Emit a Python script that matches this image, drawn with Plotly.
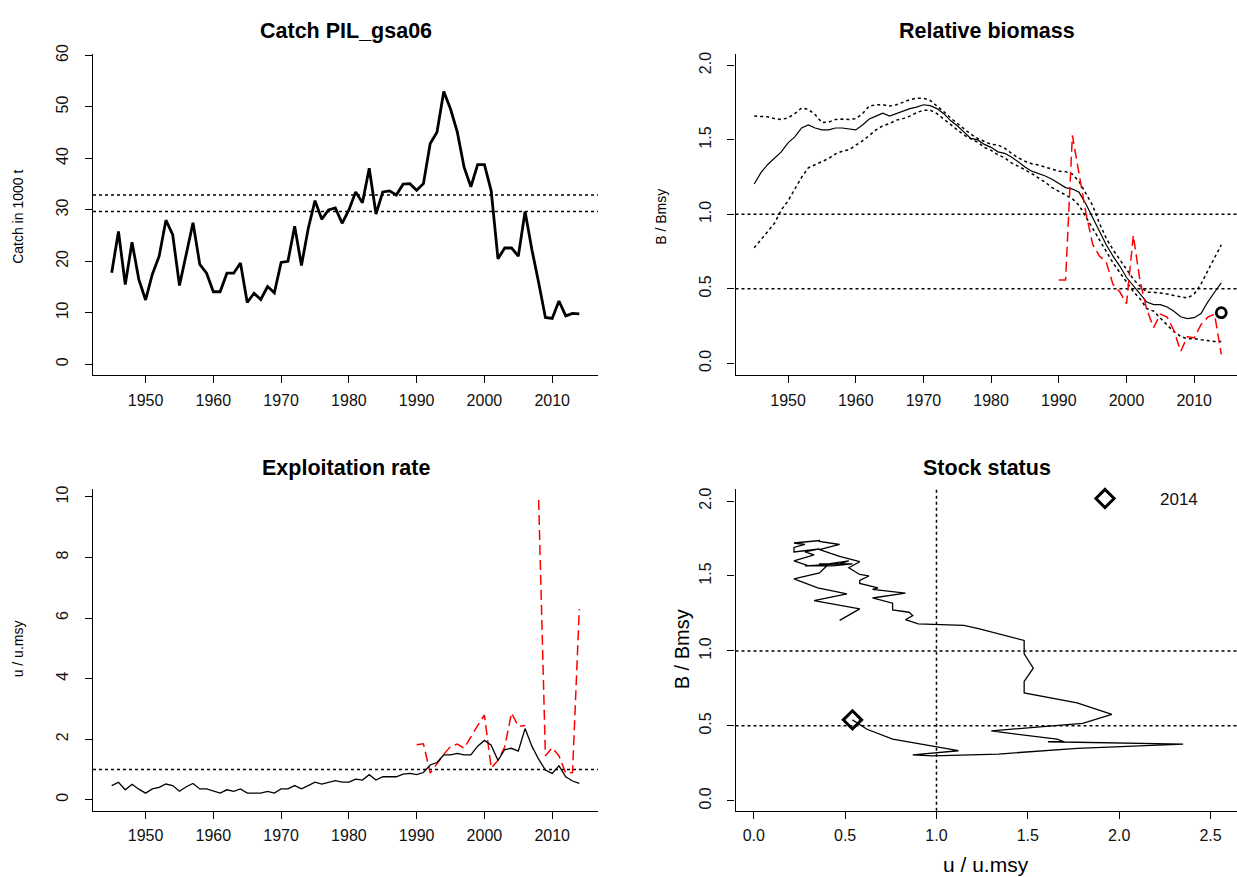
import plotly.graph_objects as go

W, H = 1237, 877
FONT = "Liberation Sans, Arial, Helvetica, sans-serif"

# ---------------- data ----------------
years = list(range(1945, 2015))
catch = [17.8, 25.8, 15.5, 23.7, 16.5, 12.5, 17.5, 21.0, 28.0, 25.2,
         15.3, 21.6, 27.5, 19.4, 17.7, 14.1, 14.1, 17.7, 17.7, 19.7,
         12.0, 13.8, 12.6, 15.1, 13.9, 19.8, 20.0, 26.8, 19.2, 26.4,
         31.8, 28.2, 30.0, 30.4, 27.4, 30.0, 33.5, 31.4, 38.1, 29.2,
         33.5, 33.7, 32.9, 35.0, 35.1, 33.8, 35.1, 42.9, 45.1, 53.0,
         49.6, 45.1, 38.3, 34.5, 38.8, 38.8, 33.7, 20.5, 22.6, 22.6,
         21.0, 29.7, 22.3, 15.9, 9.1, 8.9, 12.3, 9.4, 9.9, 9.8]
msy_band = [32.9, 29.7]

bbmsy_med = [1.204, 1.28, 1.335, 1.38, 1.42, 1.48, 1.52, 1.58, 1.60, 1.58,
             1.567, 1.567, 1.58, 1.58, 1.573, 1.567, 1.60, 1.64, 1.66, 1.68,
             1.66, 1.676, 1.69, 1.71, 1.72, 1.736, 1.73, 1.71, 1.676, 1.63,
             1.595, 1.555, 1.51, 1.50, 1.47, 1.45, 1.42, 1.41, 1.385, 1.353,
             1.318, 1.29, 1.274, 1.258, 1.236, 1.208, 1.18, 1.17, 1.148, 1.07,
             0.98, 0.885, 0.796, 0.72, 0.653, 0.576, 0.517, 0.466, 0.411, 0.394,
             0.394, 0.378, 0.35, 0.312, 0.30, 0.306, 0.334, 0.411, 0.477, 0.54]
bbmsy_hi = [1.66, 1.66, 1.655, 1.643, 1.637, 1.648, 1.676, 1.714, 1.705, 1.67,
            1.617, 1.62, 1.637, 1.64, 1.637, 1.643, 1.676, 1.727, 1.736, 1.736,
            1.727, 1.736, 1.754, 1.77, 1.78, 1.78, 1.765, 1.73, 1.69, 1.648,
            1.61, 1.573, 1.538, 1.51, 1.49, 1.47, 1.466, 1.445, 1.41, 1.38,
            1.357, 1.34, 1.331, 1.318, 1.30, 1.29, 1.287, 1.27, 1.22, 1.138,
            1.06, 0.94, 0.84, 0.763, 0.697, 0.63, 0.565, 0.517, 0.477, 0.477,
            0.473, 0.466, 0.455, 0.444, 0.438, 0.466, 0.532, 0.62, 0.708, 0.796]
bbmsy_lo = [0.775, 0.83, 0.885, 0.94, 1.03, 1.09, 1.17, 1.248, 1.313, 1.335,
            1.353, 1.375, 1.406, 1.424, 1.434, 1.463, 1.494, 1.53, 1.567, 1.595,
            1.61, 1.633, 1.643, 1.66, 1.683, 1.70, 1.70, 1.676, 1.643, 1.604,
            1.567, 1.533, 1.507, 1.485, 1.45, 1.43, 1.40, 1.38, 1.346, 1.325,
            1.30, 1.274, 1.247, 1.215, 1.18, 1.155, 1.126, 1.105, 1.06, 0.983,
            0.906, 0.825, 0.752, 0.675, 0.61, 0.543, 0.482, 0.433, 0.367, 0.35,
            0.30, 0.257, 0.213, 0.18, 0.165, 0.165, 0.158, 0.152, 0.147, 0.147]

cpue_years = list(range(1990, 2015))
bbmsy_cpue = [0.56, 0.56, 1.53, 1.26, 1.01, 0.80, 0.72, 0.68, 0.53, 0.48,
              0.40, 0.86, 0.55, 0.36, 0.24, 0.33, 0.31, 0.22, 0.08, 0.18,
              0.17, 0.26, 0.31, 0.33, 0.06]
bbmsy_prior_end = [0.34]

u_med = [0.47, 0.58, 0.33, 0.51, 0.35, 0.22, 0.36, 0.41, 0.52, 0.47,
         0.28, 0.43, 0.54, 0.36, 0.36, 0.30, 0.22, 0.33, 0.28, 0.36,
         0.22, 0.22, 0.22, 0.28, 0.22, 0.36, 0.36, 0.47, 0.36, 0.47,
         0.58, 0.52, 0.58, 0.63, 0.58, 0.58, 0.68, 0.65, 0.83, 0.65,
         0.76, 0.76, 0.76, 0.85, 0.87, 0.83, 0.90, 1.15, 1.23, 1.48,
         1.48, 1.53, 1.48, 1.48, 1.77, 1.96, 1.80, 1.30, 1.66, 1.70,
         1.61, 2.35, 1.77, 1.34, 0.98, 0.87, 1.12, 0.76, 0.62, 0.54]
u_cpue = [1.82, 1.85, 0.88, 1.20, 1.50, 1.76, 1.84, 1.70, 2.10, 2.45,
          2.80, 1.05, 1.30, 1.75, 2.87, 2.42, 2.45, None, 9.9, 1.45,
          1.72, 1.45, 0.88, 0.90, 6.30]

bbmsy_ref = [1.0, 0.5]
u_ref = [1.0]

catch_ticks = [0, 10, 20, 30, 40, 50, 60]
year_ticks = [1950, 1960, 1970, 1980, 1990, 2000, 2010]
b_ticks = [0.0, 0.5, 1.0, 1.5, 2.0]
u_ticks = [0, 2, 4, 6, 8, 10]
ux_ticks = [0.0, 0.5, 1.0, 1.5, 2.0, 2.5]

# ---------------- layout helpers ----------------
def xd(a, b):
    return [a / W, min(b / W, 1.0)]

def yd(top, bot):
    return [1 - bot / H, 1 - top / H]

regions = {
    1: dict(x=(93, 598), y=(45, 370)),
    2: dict(x=(735.5, 1237), y=(45, 370)),
    3: dict(x=(93, 598), y=(485, 810)),
    4: dict(x=(735.5, 1237), y=(485, 810)),
}

BLACK = "#000000"
RED = "#ff0000"
DOT = "3px,3px"
DASH = "10px,5px"

fig = go.Figure()

# Panel 1: catch
fig.add_trace(go.Scatter(x=years, y=catch, mode="lines", line=dict(color=BLACK, width=2.8),
                         xaxis="x", yaxis="y", showlegend=False))
# Panel 2: relative biomass
fig.add_trace(go.Scatter(x=years, y=bbmsy_hi, mode="lines", line=dict(color=BLACK, width=1.5, dash=DOT),
                         xaxis="x2", yaxis="y2", showlegend=False))
fig.add_trace(go.Scatter(x=years, y=bbmsy_lo, mode="lines", line=dict(color=BLACK, width=1.5, dash=DOT),
                         xaxis="x2", yaxis="y2", showlegend=False))
fig.add_trace(go.Scatter(x=years, y=bbmsy_med, mode="lines", line=dict(color=BLACK, width=1.2),
                         xaxis="x2", yaxis="y2", showlegend=False))
fig.add_trace(go.Scatter(x=cpue_years, y=bbmsy_cpue, mode="lines", line=dict(color=RED, width=1.5, dash=DASH),
                         xaxis="x2", yaxis="y2", showlegend=False))
fig.add_trace(go.Scatter(x=[years[-1]], y=bbmsy_prior_end, mode="markers",
                         marker=dict(symbol="circle-open", size=10, color=BLACK, line=dict(width=2.8)),
                         xaxis="x2", yaxis="y2", showlegend=False))
# Panel 3: exploitation rate
fig.add_trace(go.Scatter(x=cpue_years, y=u_cpue, mode="lines", line=dict(color=RED, width=1.5, dash=DASH),
                         connectgaps=False, xaxis="x3", yaxis="y3", showlegend=False))
fig.add_trace(go.Scatter(x=years, y=u_med, mode="lines", line=dict(color=BLACK, width=1.3),
                         xaxis="x3", yaxis="y3", showlegend=False))
# Panel 4: stock status
fig.add_trace(go.Scatter(x=u_med, y=bbmsy_med, mode="lines", line=dict(color=BLACK, width=1.3),
                         xaxis="x4", yaxis="y4", showlegend=False))
fig.add_trace(go.Scatter(x=[u_med[-1]], y=[bbmsy_med[-1]], mode="markers", name=str(years[-1]),
                         marker=dict(symbol="diamond-open", size=14, color=BLACK, line=dict(width=3)),
                         xaxis="x4", yaxis="y4", showlegend=True))

shapes = []
def hline(ax, val):
    shapes.append(dict(type="line", xref=f"x{ax} domain" if ax > 1 else "x domain",
                       yref=f"y{ax}" if ax > 1 else "y", x0=0, x1=1, y0=val, y1=val,
                       line=dict(color=BLACK, width=1.5, dash=DOT), layer="below"))
def vline(ax, val):
    shapes.append(dict(type="line", yref=f"y{ax} domain", xref=f"x{ax}", y0=0, y1=1, x0=val, x1=val,
                       line=dict(color=BLACK, width=1.5, dash=DOT), layer="below"))
for v in msy_band:
    hline(1, v)
for v in bbmsy_ref:
    hline(2, v)
for v in u_ref:
    hline(3, v)
for v in bbmsy_ref:
    hline(4, v)
for v in u_ref:
    vline(4, v)

tickfont = dict(family=FONT, size=16, color="#111111")
def axis_common():
    return dict(showline=True, linecolor=BLACK, linewidth=1.3, ticks="outside", ticklen=7,
                tickwidth=1.3, tickcolor=BLACK, showgrid=False, zeroline=False,
                tickfont=tickfont, fixedrange=True)

xranges = {1: [1942.24, 2016.76], 2: [1942.24, 2016.32], 3: [1942.24, 2016.76], 4: [-0.1, 2.645]}
yranges = {1: [-2.12, 60.38], 2: [-0.08, 2.08], 3: [-0.36, 10.26], 4: [-0.066, 2.08]}
xticks = {1: year_ticks, 2: year_ticks, 3: year_ticks, 4: ux_ticks}
yticks = {1: catch_ticks, 2: b_ticks, 3: u_ticks, 4: b_ticks}
yfmt = {1: "d", 2: ".1f", 3: "d", 4: ".1f"}
xfmt = {1: "d", 2: "d", 3: "d", 4: ".1f"}

layout = {}
for i in range(1, 5):
    sx = "" if i == 1 else str(i)
    r = regions[i]
    xa = axis_common()
    xa.update(domain=xd(*r["x"]), range=xranges[i], tickmode="array", tickvals=xticks[i],
              tickformat=xfmt[i], anchor=f"y{sx}", ticklabelstandoff=3)
    ya = axis_common()
    ya.update(domain=yd(*r["y"]), range=yranges[i], tickmode="array", tickvals=yticks[i],
              tickformat=yfmt[i], anchor=f"x{sx}", tickangle=-90, ticklabelstandoff=10)
    layout[f"xaxis{sx}"] = xa
    layout[f"yaxis{sx}"] = ya

def ann(text, px, py, size, bold=False, angle=0):
    return dict(text=f"<b>{text}</b>" if bold else text, x=px / W, y=1 - py / H, xref="paper", yref="paper",
                showarrow=False, xanchor="center", yanchor="middle", textangle=angle,
                font=dict(family=FONT, size=size, color="#000000"))

annotations = [
    ann("Catch PIL_gsa06", 346, 22, 21.5, bold=True),
    ann("Relative biomass", 987, 22, 21.5, bold=True),
    ann("Exploitation rate", 346, 464, 21.5, bold=True),
    ann("Stock status", 987, 464, 21.5, bold=True),
    ann("Catch in 1000 t", 18, 210, 14, angle=-90),
    ann("B / Bmsy", 661, 210, 14, angle=-90),
    ann("u / u.msy", 18, 647, 14, angle=-90),
    ann("B / Bmsy", 682, 647, 20, angle=-90),
    ann("u / u.msy", 986, 864, 21),
]

fig.update_layout(
    width=W, height=H, margin=dict(l=0, r=0, t=0, b=0),
    paper_bgcolor="white", plot_bgcolor="white",
    shapes=shapes, annotations=annotations,
    legend=dict(x=1050 / W, y=1 - 495 / H, xanchor="left", yanchor="middle",
                bgcolor="rgba(0,0,0,0)", font=dict(family=FONT, size=17, color="#111111"),
                itemwidth=100, tracegroupgap=0),
    **layout,
)

fig.write_html("out.html")
